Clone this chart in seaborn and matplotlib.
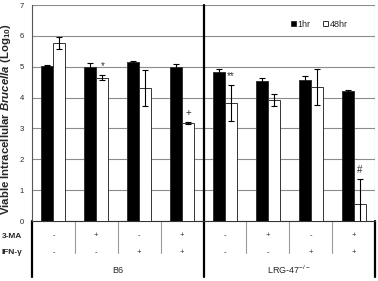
import numpy as np
import pandas as pd
import seaborn as sns
from matplotlib import pyplot as plt
import matplotlib.transforms as mtrans

# values (log10 CFU)
groups = ['1', '2', '3', '4', '5', '6', '7', '8']
mean_1hr = [5.03, 4.99, 5.16, 4.99, 4.82, 4.53, 4.56, 4.21]
err_1hr = [0.02, 0.12, 0.04, 0.11, 0.12, 0.10, 0.15, 0.02]
mean_48hr = [5.77, 4.64, 4.31, 3.17, 3.83, 3.92, 4.35, 0.55]
err_48hr = [0.18, 0.08, 0.57, 0.03, 0.58, 0.19, 0.58, 0.80]
ma_row = ['-', '+', '-', '+', '-', '+', '-', '+']
ifn_row = ['-', '-', '+', '+', '-', '-', '+', '+']
strains = ['B6', 'LRG-47$^{-/-}$']
marks = {1: '*', 3: '+', 4: '**', 7: '#'}

sns.set_style('white')
plt.rcParams['font.family'] = ['Liberation Sans', 'DejaVu Sans']
plt.rcParams['mathtext.fontset'] = 'custom'
plt.rcParams['mathtext.rm'] = 'Liberation Sans'
plt.rcParams['mathtext.it'] = 'Liberation Sans:italic:bold'
plt.rcParams['mathtext.bf'] = 'Liberation Sans:bold'
plt.rcParams['mathtext.default'] = 'regular'

df = pd.DataFrame({
    'group': groups * 2,
    'time': ['1hr'] * 8 + ['48hr'] * 8,
    'value': mean_1hr + mean_48hr,
})

fig = plt.figure(figsize=(3.78, 2.81), dpi=100)
ax = fig.add_axes([32 / 378, 1 - 221 / 281, 343 / 378, 216 / 281])

sns.barplot(data=df, x='group', y='value', hue='time', palette=['black', 'white'],
            width=0.56, edgecolor='#333333', linewidth=0.7, errorbar=None, ax=ax, zorder=3)

for cont, errs in zip(ax.containers, [err_1hr, err_48hr]):
    xs = [p.get_x() + p.get_width() / 2 for p in cont]
    ys = [p.get_height() for p in cont]
    ax.errorbar(xs, ys, yerr=errs, fmt='none', ecolor='black', elinewidth=0.8,
                capsize=2, capthick=0.8, zorder=4)
    if cont is ax.containers[1]:
        for i, s in marks.items():
            ax.text(xs[i], ys[i] + errs[i] + 0.14, s, ha='center', va='bottom',
                    fontsize=7, color='#333333')

ax.set_ylim(0, 7)
ax.set_xlim(-0.5, 7.5)
ax.set_yticks(range(8))
ax.tick_params(axis='y', labelsize=5.5, length=3.5, width=0.6, color='#555555', pad=2.5)
ax.set_xticks([])
ax.set_xlabel('')
ax.set_ylabel('Viable Intracellular $\\it{Brucella}$ (Log$_{\\bf{10}}$)', fontsize=8.2,
              fontweight='bold')
ax.yaxis.set_label_coords(-0.055, 0.47)
ax.yaxis.grid(True, color='#8c8c8c', linewidth=0.8)
ax.set_axisbelow(True)
for side in ['top', 'right']:
    ax.spines[side].set_visible(False)
ax.spines['left'].set_color('#555555')
ax.spines['left'].set_linewidth(0.8)
ax.spines['bottom'].set_color('#333333')
ax.spines['bottom'].set_linewidth(0.8)
ax.axvline(7.5, color='#8c8c8c', linewidth=0.8)

handles, labels = ax.get_legend_handles_labels()
ax.legend(handles, labels, loc='center left', bbox_to_anchor=(0.755, 0.912), ncol=2,
          frameon=False, fontsize=6.5, handlelength=0.55, handleheight=0.55,
          handletextpad=0.2, columnspacing=1.4, borderaxespad=0, borderpad=0)

# table under the bars
tr = mtrans.blended_transform_factory(ax.transData, ax.transAxes)
for i in range(8):
    ax.text(i, -0.069, ma_row[i], transform=tr, ha='center', va='center', fontsize=5.5)
    ax.text(i, -0.148, ifn_row[i], transform=tr, ha='center', va='center', fontsize=5.5)
for k in [0.5, 1.5, 2.5, 4.5, 5.5, 6.5]:
    ax.plot([k, k], [0, -0.15], transform=tr, color='#9a9a9a', linewidth=0.8, clip_on=False)
ax.plot([-0.5, -0.5], [0, -0.259], transform=tr, color='black', linewidth=1.6, clip_on=False)
ax.plot([3.5, 3.5], [1, -0.259], transform=tr, color='black', linewidth=1.6, clip_on=False)
ax.plot([7.5, 7.5], [0, -0.259], transform=tr, color='black', linewidth=1.6, clip_on=False)
ax.text(1.5, -0.227, strains[0], transform=tr, ha='center', va='center', fontsize=6.5)
ax.text(5.5, -0.227, strains[1], transform=tr, ha='center', va='center', fontsize=6.5)

fig.text(2 / 378, 1 - 236 / 281, '3-MA', ha='left', va='center', fontsize=6, fontweight='bold')
fig.text(2 / 378, 1 - 253 / 281, 'IFN-γ', ha='left', va='center', fontsize=6,
         fontweight='bold')

fig.savefig('out.png', dpi=100)
